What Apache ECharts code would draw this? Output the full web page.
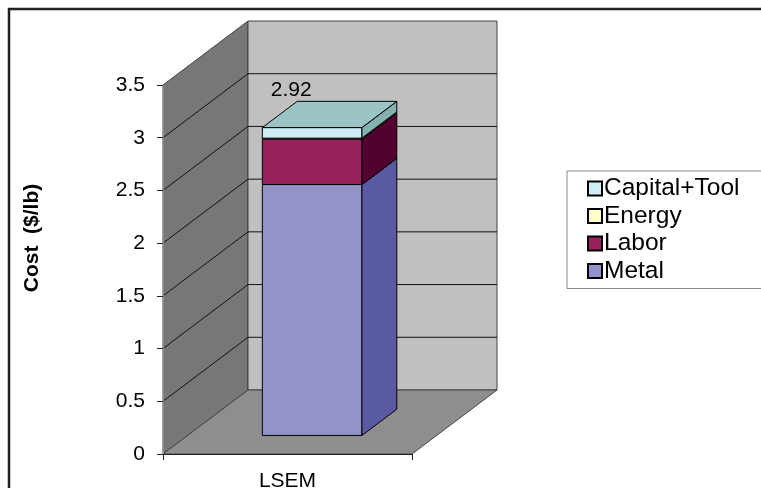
<!DOCTYPE html>
<html>
<head>
<meta charset="utf-8">
<script src="https://cdn.jsdelivr.net/npm/echarts@6/dist/echarts.min.js"></script>
<style>
  html, body { margin: 0; padding: 0; background: #fff; }
  #chart { width: 761px; height: 488px; }
</style>
</head>
<body>
<div id="chart"></div>
<script>
// data
const categories = ['LSEM'];
const metal = [2.38];
const labor = [0.43];
const energy = [0.01];
const capital = [0.10];
const yTicks = [0, 0.5, 1, 1.5, 2, 2.5, 3, 3.5];
const legendOrder = ['Capital+Tool', 'Energy', 'Labor', 'Metal'];

// 3d look: depth of the box in pixels, bar position inside that depth
const DX = 85, DY = -64;
const F0 = 0.29, F1 = 0.70;
const BAR_W = 0.40;
const FONT = 'Liberation Sans';

const stackDefs = [
    { name: 'Metal', values: metal, front: '#9393C9', side: '#5A5AA3', top: '#B4B4E2' },
    { name: 'Labor', values: labor, front: '#97205D', side: '#520030', top: '#B04080' },
    { name: 'Energy', values: energy, front: '#FFFFCC', side: '#A8A880', top: '#E6E6B8' },
    { name: 'Capital+Tool', values: capital, front: '#CFEDF4', side: '#86AFAF', top: '#9BC4C4' }
];

// running base for the stack
const bases = categories.map(() => 0);
const totals = categories.map((c, i) => stackDefs.reduce((s, d) => s + d.values[i], 0));

const barSeries = stackDefs.map((def, si) => {
    const data = categories.map((c, i) => {
        const lo = bases[i];
        const hi = lo + def.values[i];
        bases[i] = hi;
        return [i, lo, hi];
    });
    const isTop = si === stackDefs.length - 1;
    return {
        name: def.name,
        type: 'custom',
        itemStyle: { color: def.front },
        encode: { x: 0, y: [1, 2] },
        data: data,
        z: 3,
        renderItem: function (params, api) {
            const ci = api.value(0), lo = api.value(1), hi = api.value(2);
            const a = api.coord([ci, lo]);
            const b = api.coord([ci, hi]);
            const bw = api.size([1, 0])[0] * BAR_W;
            const xl = a[0] - bw / 2 + F0 * DX, xr = xl + bw;
            const yb = a[1] + F0 * DY, yt = b[1] + F0 * DY;
            const ddx = (F1 - F0) * DX, ddy = (F1 - F0) * DY;
            const edge = { stroke: '#000', lineWidth: 1 };
            const children = [
                { type: 'polygon', shape: { points: [[xl, yt], [xr, yt], [xr, yb], [xl, yb]] },
                  style: Object.assign({ fill: def.front }, edge) },
                { type: 'polygon', shape: { points: [[xr, yt], [xr + ddx, yt + ddy], [xr + ddx, yb + ddy], [xr, yb]] },
                  style: Object.assign({ fill: def.side }, edge) },
                { type: 'polygon', shape: { points: [[xl, yt], [xr, yt], [xr + ddx, yt + ddy], [xl + ddx, yt + ddy]] },
                  style: Object.assign({ fill: def.top }, edge) }
            ];
            if (isTop) {
                children.push({
                    type: 'text',
                    style: {
                        text: totals[ci].toFixed(2),
                        x: (xl + xr) / 2 - 21,
                        y: yt + ddy - 11,
                        align: 'center',
                        verticalAlign: 'middle',
                        fontSize: 21,
                        fontFamily: FONT,
                        fill: '#000'
                    }
                });
            }
            return { type: 'group', children: children };
        }
    };
});

// walls, floor and gridlines of the 3d box
const wallSeries = {
    type: 'custom',
    silent: true,
    z: 1,
    data: [[0]],
    renderItem: function (params, api) {
        const n = categories.length;
        const c0 = api.coord([0, 0]);
        const bw = api.size([1, 0])[0];
        const xL = c0[0] - bw / 2, xR = xL + bw * n;
        const y0 = c0[1];
        const yMax = yTicks[yTicks.length - 1];
        const yT = api.coord([0, yMax])[1];
        const wallEdge = { stroke: '#444', lineWidth: 1 };
        const children = [
            { type: 'polygon', shape: { points: [[xL, y0], [xL, yT], [xL + DX, yT + DY], [xL + DX, y0 + DY]] },
              style: Object.assign({ fill: '#777777' }, wallEdge) },
            { type: 'polygon', shape: { points: [[xL + DX, yT + DY], [xR + DX, yT + DY], [xR + DX, y0 + DY], [xL + DX, y0 + DY]] },
              style: Object.assign({ fill: '#C0C0C0' }, wallEdge) },
            { type: 'polygon', shape: { points: [[xL, y0], [xR, y0], [xR + DX, y0 + DY], [xL + DX, y0 + DY]] },
              style: Object.assign({ fill: '#8E8E8E' }, wallEdge) }
        ];
        yTicks.forEach(v => {
            if (v <= 0 || v >= yMax) return;
            const y = api.coord([0, v])[1];
            children.push({ type: 'polyline', shape: { points: [[xL, y], [xL + DX, y + DY], [xR + DX, y + DY]] },
                            style: { stroke: '#111', lineWidth: 1, fill: null } });
        });
        return { type: 'group', children: children };
    }
};

const chart = echarts.init(document.getElementById('chart'));
chart.setOption({
    animation: false,
    backgroundColor: '#fff',
    grid: { left: 163, right: 349, top: 85, bottom: 34, outerBoundsMode: 'none', containLabel: false },
    xAxis: {
        type: 'category',
        data: categories,
        z: 5,
        axisLine: { lineStyle: { color: '#222', width: 1 } },
        axisTick: { show: true, length: 6, lineStyle: { color: '#222' } },
        axisLabel: { fontSize: 21, color: '#000', fontFamily: FONT, margin: 17 }
    },
    yAxis: {
        type: 'value',
        min: 0,
        max: 3.5,
        interval: 0.5,
        z: 5,
        axisLine: { show: true, lineStyle: { color: '#888', width: 1 } },
        axisTick: { show: true, length: 6, lineStyle: { color: '#222' } },
        axisLabel: { fontSize: 21, color: '#000', fontFamily: FONT, margin: 18 },
        splitLine: { show: false }
    },
    legend: {
        data: legendOrder,
        orient: 'vertical',
        left: 567,
        top: 171,
        padding: [5, 30, 5, 20],
        itemGap: 2.5,
        itemWidth: 14,
        itemHeight: 14,
        icon: 'rect',
        selectedMode: false,
        borderColor: '#888',
        borderWidth: 1,
        backgroundColor: '#fff',
        itemStyle: { borderColor: '#000', borderWidth: 2 },
        textStyle: { fontSize: 24.5, color: '#000', fontFamily: FONT, padding: [0, 0, 0, -3] }
    },
    graphic: [
        {
            type: 'rect',
            silent: true,
            shape: { x: 9, y: 9, width: 800, height: 600 },
            style: { fill: null, stroke: '#222', lineWidth: 2.5 }
        },
        {
            type: 'text',
            x: 32,
            y: 238,
            rotation: Math.PI / 2,
            style: {
                text: 'Cost  ($/lb)',
                fontSize: 21,
                fontWeight: 'bold',
                fontFamily: FONT,
                fill: '#000',
                align: 'center',
                verticalAlign: 'middle'
            }
        }
    ],
    series: [wallSeries].concat(barSeries)
});
</script>
</body>
</html>
